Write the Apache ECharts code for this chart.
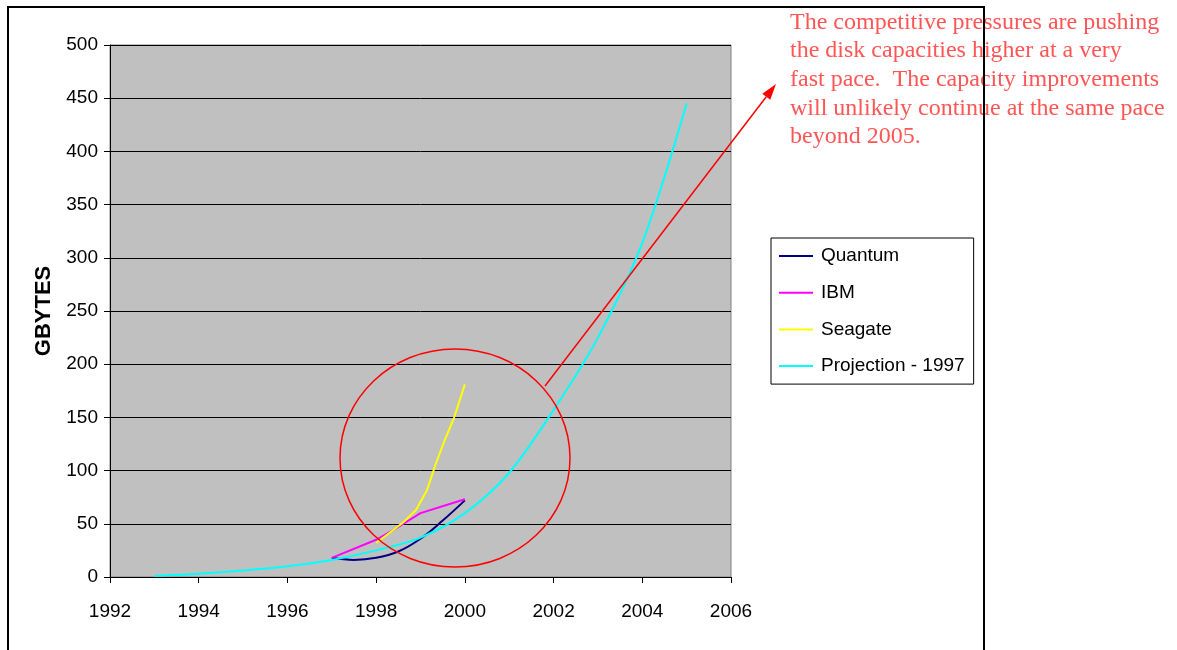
<!DOCTYPE html>
<html>
<head>
<meta charset="utf-8">
<script src="https://cdn.jsdelivr.net/npm/echarts@6/dist/echarts.min.js"></script>
<style>
html,body{margin:0;padding:0;background:#fff;}
#chart{width:1177px;height:650px;}
</style>
</head>
<body>
<div id="chart"></div>
<script>
// ---- data ----
var seriesNames = ['Quantum', 'IBM', 'Seagate', 'Projection - 1997'];
var quantum = [[1997, 18], [1997.5, 16], [1998, 18], [1998.5, 24], [1999, 36], [1999.5, 53], [2000, 72]];
var ibm = [[1997, 18], [1998, 35], [1998.5, 47], [1999, 60], [2000, 73]];
var seagate = [[1998, 32], [1998.6, 51], [1998.9, 63], [1999.15, 82], [1999.35, 107], [1999.55, 129], [1999.75, 149], [2000, 181]];
var projection = [[1993, 1], [1994, 3], [1995, 6], [1996, 10], [1997, 16], [1998, 25], [1999, 37], [2000, 60], [2001, 98], [2002, 157], [2003, 225], [2004, 314], [2005, 445]];
var xTicks = [1992, 2006, 2];
var yTicks = [0, 500, 50];
var yTitle = 'GBYTES';
var noteLines = [
  'The competitive pressures are pushing',
  'the disk capacities higher at a very',
  'fast pace.  The capacity improvements',
  'will unlikely continue at the same pace',
  'beyond 2005.'
];

var colors = ['#000080', '#FF00FF', '#FFFF00', '#00FFFF'];
var chart = echarts.init(document.getElementById('chart'));

// arrow geometry
var a0 = [545, 386], a1 = [776, 84];
var dx = a1[0] - a0[0], dy = a1[1] - a0[1], L = Math.sqrt(dx * dx + dy * dy);
var ux = dx / L, uy = dy / L, nx = -uy, ny = ux;
var hb = [a1[0] - 16 * ux, a1[1] - 16 * uy];

function mk(name, data, color, smooth) {
  return {
    name: name, type: 'line', data: data, smooth: smooth,
    showSymbol: false, symbol: 'none',
    lineStyle: { color: color, width: 2 }, itemStyle: { color: color },
    animation: false
  };
}

chart.setOption({
  animation: false,
  grid: {
    left: 110, top: 45, width: 621, height: 532,
    show: true, backgroundColor: '#C0C0C0', borderColor: '#808080', borderWidth: 1
  },
  xAxis: {
    type: 'value', min: xTicks[0], max: xTicks[1], interval: xTicks[2],
    axisLine: { lineStyle: { color: '#000', width: 1 } },
    axisTick: { show: true, length: 6, lineStyle: { color: '#000' } },
    splitLine: { show: false },
    axisLabel: { color: '#000', fontFamily: 'Liberation Sans', fontSize: 19, margin: 25, formatter: function (v) { return String(v); } }
  },
  yAxis: {
    type: 'value', min: yTicks[0], max: yTicks[1], interval: yTicks[2],
    name: yTitle, nameLocation: 'middle', nameGap: 55, nameRotate: 90,
    nameTextStyle: { color: '#000', fontFamily: 'Liberation Sans', fontWeight: 'bold', fontSize: 22 },
    axisLine: { show: true, lineStyle: { color: '#000', width: 1 } },
    axisTick: { show: true, length: 6, lineStyle: { color: '#000' } },
    splitLine: { show: true, lineStyle: { color: '#000', width: 1 } },
    axisLabel: { color: '#000', fontFamily: 'Liberation Sans', fontSize: 19, margin: 12 }
  },
  legend: {
    orient: 'vertical', left: 771, top: 238,
    data: seriesNames,
    backgroundColor: '#fff', borderColor: '#000', borderWidth: 1,
    padding: [8, 9, 8, 8],
    itemWidth: 34, itemHeight: 2, itemGap: 16.7, icon: 'rect',
    textStyle: { color: '#000', fontFamily: 'Liberation Sans', fontSize: 19, lineHeight: 20, padding: [0, 0, 0, 3] }
  },
  series: [
    mk(seriesNames[0], quantum, colors[0], 0.4),
    mk(seriesNames[1], ibm, colors[1], false),
    mk(seriesNames[2], seagate, colors[2], false),
    mk(seriesNames[3], projection, colors[3], 0.3)
  ],
  graphic: [
    { type: 'rect', z: 100, shape: { x: 8, y: 7, width: 976, height: 700 },
      style: { fill: 'none', stroke: '#000', lineWidth: 2 }, silent: true },
    { type: 'ellipse', z: 50, shape: { cx: 455, cy: 458, rx: 115, ry: 109 },
      style: { fill: 'none', stroke: '#FF0000', lineWidth: 1.5 }, silent: true },
    { type: 'line', z: 50, shape: { x1: a0[0], y1: a0[1], x2: hb[0], y2: hb[1] },
      style: { stroke: '#FF0000', lineWidth: 1.5 }, silent: true },
    { type: 'polygon', z: 50, shape: { points: [a1, [hb[0] + 5 * nx, hb[1] + 5 * ny], [hb[0] - 5 * nx, hb[1] - 5 * ny]] },
      style: { fill: '#FF0000' }, silent: true },
    { type: 'text', z: 60, left: 790, top: 8,
      style: { text: noteLines.join('\n'), fill: '#FF5555', font: '24px "Liberation Serif"', lineHeight: 28.7 }, silent: true }
  ]
});
</script>
</body>
</html>
